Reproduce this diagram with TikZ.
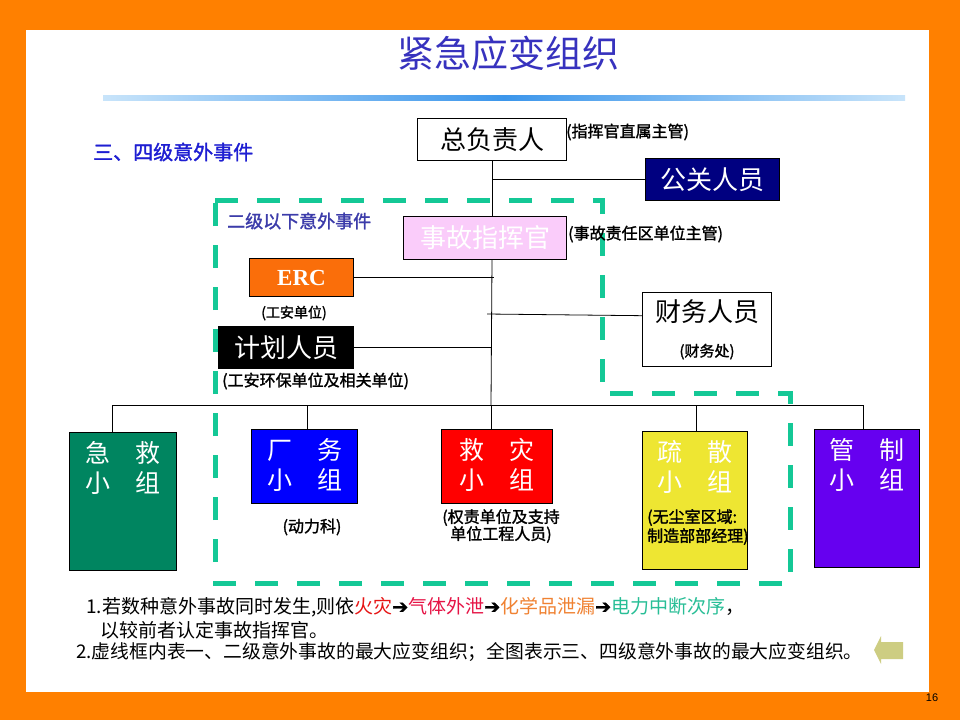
\documentclass[tikz,border=0pt]{standalone}
\usepackage{fontspec}
\newfontfamily\cjk{Noto Sans CJK SC}
\newfontfamily\cjkb[FakeBold=1.5]{Noto Sans CJK SC}
\newfontfamily\ercfont{Liberation Serif}
\newfontfamily\arrowfont[FakeBold=1.5]{DejaVu Sans}
\newfontfamily\numfont{Liberation Sans}
\newcommand{\nextstep}{{\arrowfont\fontsize{19}{19}\selectfont ➔}}
\definecolor{slideorange}{RGB}{255,128,0}
\definecolor{framegreen}{RGB}{20,200,150}
\definecolor{pinkbox}{RGB}{250,204,250}
\definecolor{navybox}{RGB}{0,0,128}
\definecolor{ercorange}{RGB}{250,110,10}
\definecolor{jjgreen}{RGB}{0,133,96}
\definecolor{cwblue}{RGB}{0,0,255}
\definecolor{jzred}{RGB}{255,0,0}
\definecolor{ssyellow}{RGB}{238,230,50}
\definecolor{gzpurple}{RGB}{102,0,240}
\definecolor{titleblue}{RGB}{55,50,190}
\definecolor{lblblue}{RGB}{30,30,210}
\definecolor{sublblue}{RGB}{60,60,170}
\definecolor{fire}{RGB}{230,20,20}
\definecolor{gas}{RGB}{230,20,70}
\definecolor{chem}{RGB}{240,130,50}
\definecolor{power}{RGB}{40,190,150}
\definecolor{lineend}{RGB}{200,228,250}
\definecolor{linemid}{RGB}{60,150,235}
\definecolor{backarrow}{RGB}{205,205,130}
\begin{document}
\begin{tikzpicture}[x=1pt,y=-1pt,
      orgbox/.style={draw=black,line width=1pt,inner sep=0pt,anchor=north west,font=\cjk\fontsize{26}{30}\selectfont},
      smalllbl/.style={inner sep=0pt,font=\cjkb\fontsize{16}{18}\selectfont},
      grpbox/.style={draw=black,line width=1pt,inner sep=0pt,anchor=north west},
      grptxt/.style={anchor=north,yshift=-9pt,inner sep=0pt,align=center,text=white,font=\cjk\fontsize{25}{30}\selectfont},
      dashframe/.style={draw=framegreen,line width=5pt,dash pattern=on 23pt off 19pt},
      wire/.style={draw=black,line width=0.8pt}]
                  \useasboundingbox (0,0) rectangle (960,720);
                  \fill[slideorange] (0,0) rectangle (960,720);
                  \fill[white] (26,30) rectangle (929,692);
                  \node[font=\cjk\fontsize{37}{40}\selectfont,text=titleblue] (title) at (508,53) {紧急应变组织};
                  \shade[left color=lineend,right color=lineend,middle color=linemid] (103,95) rectangle (905,100);
                  \draw[dashframe] (215,200) -- (602,200) -- (602,393) -- (790,393) -- (790,583) -- (215,583) -- cycle;
                  \node[anchor=west,inner sep=0pt,text=lblblue,font=\cjkb\fontsize{20}{22}\selectfont] (sj) at (93,152) {三、四级意外事件};
                  \node[anchor=west,inner sep=0pt,text=sublblue,font=\cjkb\fontsize{18}{20}\selectfont] (ej) at (227,221) {二级以下意外事件};
                  \node[orgbox,fill=white,minimum width=149pt,minimum height=42pt] (zfz) at (417,118) {总负责人};
                  \node[smalllbl,anchor=west] (zfzl) at (566,132) {(指挥官直属主管)};
                  \node[orgbox,fill=navybox,text=white,minimum width=134pt,minimum height=42pt] (gg) at (645,158) {公关人员};
                  \node[orgbox,fill=pinkbox,text=white,minimum width=163pt,minimum height=43pt] (sg) at (403,216) {事故指挥官};
                  \node[smalllbl,anchor=west] (sgl) at (568,234) {(事故责任区单位主管)};
                  \node[orgbox,fill=ercorange,text=white,minimum width=104pt,minimum height=38pt,font=\ercfont\bfseries\fontsize{23}{26}\selectfont] (erc) at (249,258) {ERC};
                  \node[smalllbl,font=\cjkb\fontsize{14}{16}\selectfont] (ercl) at (294,313) {(工安单位)};
                  \node[orgbox,fill=black,text=white,minimum width=135pt,minimum height=42pt] (jh) at (218,326) {计划人员};
                  \node[smalllbl,anchor=west] (jhl) at (222,381) {(工安环保单位及相关单位)};
                  \node[orgbox,fill=white,minimum width=129pt,minimum height=74pt,align=center] (cw) at (642,292) {财务人员\\[5pt]{\cjkb\fontsize{15}{16}\selectfont(财务处)}};
                  \node[grpbox,fill=jjgreen,minimum width=107pt,minimum height=138pt,label={[grptxt]north:急\hspace{1em}救\\小\hspace{1em}组}] (jj) at (69,432) {};
                  \node[grpbox,fill=cwblue,minimum width=106pt,minimum height=74pt,label={[grptxt]north:厂\hspace{1em}务\\小\hspace{1em}组}] (cwz) at (251,429) {};
                  \node[grpbox,fill=jzred,minimum width=111pt,minimum height=74pt,label={[grptxt]north:救\hspace{1em}灾\\小\hspace{1em}组}] (jz) at (441,429) {};
                  \node[grpbox,fill=ssyellow,minimum width=105pt,minimum height=138pt,label={[grptxt]north:疏\hspace{1em}散\\小\hspace{1em}组}] (ss) at (642,431) {};
                  \node[grpbox,fill=gzpurple,minimum width=105pt,minimum height=138pt,label={[grptxt]north:管\hspace{1em}制\\小\hspace{1em}组}] (gz) at (814,429) {};
                  \node[smalllbl] (cwzl) at (312,527) {(动力科)};
                  \node[smalllbl,align=center,font=\cjkb\fontsize{16}{17}\selectfont] (jzl) at (501,526) {(权责单位及支持\\单位工程人员)};
                  \node[smalllbl,align=left,anchor=west,font=\cjkb\fontsize{16}{19}\selectfont] (ssl) at (647,527) {(无尘室区域:\\制造部部经理)};
                  \coordinate (b1) at (112,405);
                  \coordinate (b2) at (307,405);
                  \coordinate (b3) at (491,405);
                  \coordinate (b4) at (696,405);
                  \coordinate (b5) at (863,405);
                  \coordinate (cwj) at (487,314);
                  \draw[wire] (zfz.south) -- (sg.north -| zfz.south);
                  \draw[wire] (sg.south -| zfz.south) -- (b3);
                  \draw[wire] (zfz.south |- gg.west) -- (gg.west);
                  \draw[wire] (erc.east) -- ([xshift=2pt]erc.east -| zfz.south);
                  \draw[wire] (jh.east) -- (jh.east -| zfz.south);
                  \draw[wire] (cwj) -- (cw.168);
                  \draw[wire] (b1) -- (b5);
                  \draw[wire] (b1) -- (b1 |- jj.north);
                  \draw[wire] (b2) -- (b2 |- cwz.north);
                  \draw[wire] (b3) -- (b3 |- jz.north);
                  \draw[wire] (b4) -- (b4 |- ss.north);
                  \draw[wire] (b5) -- (b5 |- gz.north);
                  \node[anchor=west,inner sep=0pt,font=\cjk\fontsize{19}{22}\selectfont] (n1) at (86,607) {1.若数种意外事故同时发生,则依\textcolor{fire}{火灾}\nextstep\textcolor{gas}{气体外泄}\nextstep\textcolor{chem}{化学品泄漏}\nextstep\textcolor{power}{电力中断次序}，};
                  \node[anchor=west,inner sep=0pt,font=\cjk\fontsize{19}{22}\selectfont] (n2) at (100,630) {以较前者认定事故指挥官。};
                  \node[anchor=west,inner sep=0pt,font=\cjk\fontsize{18.8}{22}\selectfont] (n3) at (76,652) {2.虚线框内表一、二级意外事故的最大应变组织；全图表示三、四级意外事故的最大应变组织。};
                  \fill[backarrow] (874,650) -- (881,636) -- (881,642) -- (903,642) -- (903,659) -- (881,659) -- (881,664) -- cycle;
                  \node[font=\numfont\fontsize{11}{12}\selectfont] (pg) at (932,698) {16};
               \end{tikzpicture}
\end{document}
